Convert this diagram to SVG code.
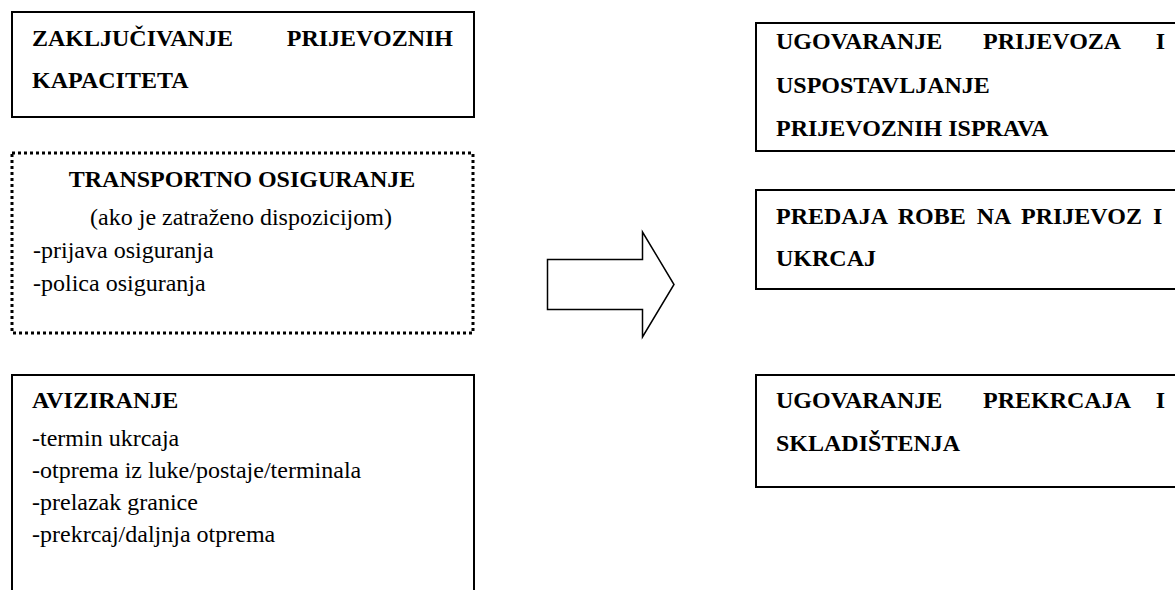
<svg xmlns="http://www.w3.org/2000/svg" width="1175" height="590" viewBox="0 0 1175 590">
<style>
.box{fill:#fff;stroke:#000;stroke-width:2}
.dot{fill:#fff;stroke:#000;stroke-width:3;stroke-dasharray:3 3}
text{font-family:"Liberation Serif","Times New Roman",serif;font-size:24px;fill:#000}
.b{font-weight:bold}
.c{text-anchor:middle}
.e{text-anchor:end}
</style>
<rect width="1175" height="590" fill="#fff"/>
<g id="n-zakljucivanje">
<rect class="box" x="12" y="12" width="462" height="105"/>
<text class="b" x="32" y="46">ZAKLJUČIVANJE</text>
<text class="b e" x="453" y="46">PRIJEVOZNIH</text>
<text class="b" x="32" y="88">KAPACITETA</text>
</g>
<g id="n-osiguranje">
<rect class="dot" x="12" y="153" width="461" height="180"/>
<text class="b c" x="242" y="187">TRANSPORTNO OSIGURANJE</text>
<text class="c" x="241" y="225">(ako je zatraženo dispozicijom)</text>
<text x="33" y="258">-prijava osiguranja</text>
<text x="33" y="291">-polica osiguranja</text>
</g>
<g id="n-aviziranje">
<rect class="box" x="12" y="375" width="462" height="230"/>
<text class="b" x="32" y="408">AVIZIRANJE</text>
<text x="32" y="446">-termin ukrcaja</text>
<text x="32" y="478">-otprema iz luke/postaje/terminala</text>
<text x="32" y="510">-prelazak granice</text>
<text x="32" y="542">-prekrcaj/daljnja otprema</text>
</g>
<g id="connectors">
<path d="M547.5 259.5 H642.5 V232 L674 284.5 L642.5 337 V309.5 H547.5 Z" fill="#fff" stroke="#000" stroke-width="1.5" stroke-linejoin="miter"/>
</g>
<g id="n-ugovaranje-prijevoza">
<rect class="box" x="756" y="23" width="430" height="128"/>
<text class="b" x="776" y="49">UGOVARANJE</text>
<text class="b" x="983" y="49">PRIJEVOZA</text>
<text class="b e" x="1165" y="49">I</text>
<text class="b" x="776" y="93">USPOSTAVLJANJE</text>
<text class="b" x="776" y="136">PRIJEVOZNIH ISPRAVA</text>
</g>
<g id="n-predaja">
<rect class="box" x="756" y="190" width="430" height="99"/>
<text class="b" x="776" y="224" word-spacing="5">PREDAJA ROBE NA PRIJEVOZ I</text>
<text class="b" x="776" y="266">UKRCAJ</text>
</g>
<g id="n-prekrcaj">
<rect class="box" x="756" y="375" width="430" height="112"/>
<text class="b" x="776" y="408">UGOVARANJE</text>
<text class="b" x="983" y="408">PREKRCAJA</text>
<text class="b e" x="1165" y="408">I</text>
<text class="b" x="776" y="451">SKLADIŠTENJA</text>
</g>
</svg>
